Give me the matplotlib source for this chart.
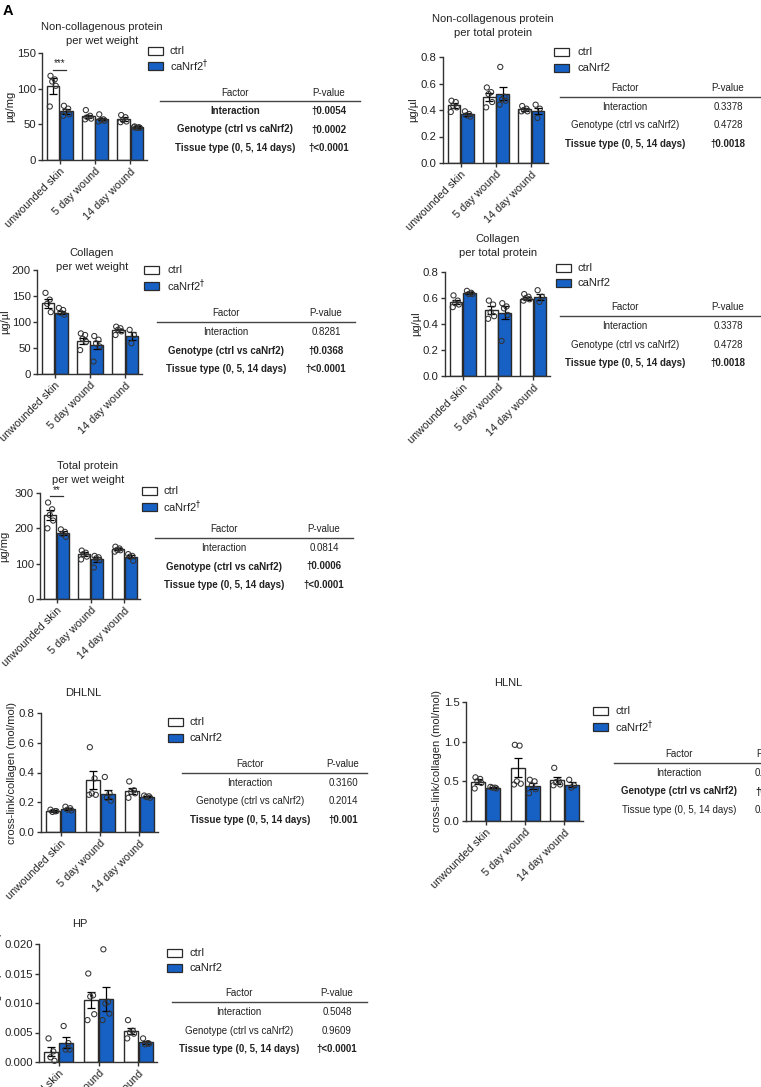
import numpy as np
import matplotlib
matplotlib.use("Agg")
import matplotlib.pyplot as plt
from matplotlib.patches import Rectangle
from matplotlib.lines import Line2D

plt.rcParams["font.family"] = ["Liberation Sans", "DejaVu Sans"]

W, H = 761, 1087
BLUE = "#1760c4"
EDGE = "#2a2a2a"
TXT = "#222222"

tissues = ["unwounded skin", "5 day wound", "14 day wound"]
factors = ["Interaction", "Genotype (ctrl vs caNrf2)", "Tissue type (0, 5, 14 days)"]

# non-collagenous protein per wet weight (ug/mg)
ncp_ww_mean_ctrl = [104, 61, 57]
ncp_ww_mean_ca = [68, 57, 46]
ncp_ww_sem_ctrl = [11, 2.5, 3]
ncp_ww_sem_ca = [3.5, 1.5, 1]
ncp_ww_pts_ctrl = [[118, 113, 110, 104, 75], [70, 62, 60, 58, 57], [63, 60, 56, 54, 53]]
ncp_ww_pts_ca = [[76, 72, 68, 64, 62], [64, 57, 56, 55, 54], [47, 46, 45, 45, 46]]
ncp_ww_pvals = ["\u20200.0054", "\u20200.0002", "\u2020<0.0001"]
ncp_ww_bold = [True, True, True]

# non-collagenous protein per total protein (ug/ul)
ncp_tp_mean_ctrl = [0.435, 0.498, 0.405]
ncp_tp_mean_ca = [0.367, 0.523, 0.392]
ncp_tp_sem_ctrl = [0.02, 0.03, 0.01]
ncp_tp_sem_ca = [0.01, 0.05, 0.025]
ncp_tp_pts_ctrl = [[0.47, 0.46, 0.43, 0.42, 0.385], [0.57, 0.535, 0.52, 0.46, 0.42], [0.43, 0.41, 0.40, 0.39, 0.39]]
ncp_tp_pts_ca = [[0.39, 0.37, 0.36, 0.35], [0.725, 0.50, 0.48, 0.47, 0.44], [0.44, 0.41, 0.34]]
ncp_tp_pvals = ["0.3378", "0.4728", "\u20200.0018"]
ncp_tp_bold = [False, False, True]

# collagen per wet weight (ug/ul)
col_ww_mean_ctrl = [136, 64, 84]
col_ww_mean_ca = [118, 56, 73]
col_ww_sem_ctrl = [9, 6, 3]
col_ww_sem_ca = [3, 8, 7]
col_ww_pts_ctrl = [[156, 143, 135, 119], [78, 75, 68, 62, 46], [91, 88, 85, 82, 75]]
col_ww_pts_ca = [[127, 123, 118, 114], [73, 66, 59, 53, 24], [85, 75, 59]]
col_ww_pvals = ["0.8281", "\u20200.0368", "\u2020<0.0001"]
col_ww_bold = [False, True, True]

# collagen per total protein (ug/ul)
col_tp_mean_ctrl = [0.570, 0.506, 0.596]
col_tp_mean_ca = [0.639, 0.486, 0.608]
col_tp_sem_ctrl = [0.015, 0.03, 0.01]
col_tp_sem_ca = [0.005, 0.05, 0.025]
col_tp_pts_ctrl = [[0.62, 0.58, 0.56, 0.55, 0.53], [0.58, 0.55, 0.49, 0.46, 0.44], [0.63, 0.61, 0.60, 0.59, 0.58]]
col_tp_pts_ca = [[0.655, 0.64, 0.63, 0.63], [0.56, 0.535, 0.52, 0.47, 0.27], [0.66, 0.61, 0.57]]
col_tp_pvals = ["0.3378", "0.4728", "\u20200.0018"]
col_tp_bold = [False, False, True]

# total protein per wet weight (ug/mg)
tp_ww_mean_ctrl = [238, 127, 141]
tp_ww_mean_ca = [186, 112, 120]
tp_ww_sem_ctrl = [14, 5, 3]
tp_ww_sem_ca = [6, 7, 4]
tp_ww_pts_ctrl = [[273, 254, 238, 222, 200], [137, 131, 127, 120, 112], [148, 143, 139, 138, 134]]
tp_ww_pts_ca = [[197, 190, 184, 176], [122, 118, 115, 110, 89], [127, 122, 120, 108]]
tp_ww_pvals = ["0.0814", "\u20200.0006", "\u2020<0.0001"]
tp_ww_bold = [False, True, True]

# DHLNL cross-link/collagen (mol/mol)
dhlnl_mean_ctrl = [0.142, 0.349, 0.275]
dhlnl_mean_ca = [0.155, 0.255, 0.237]
dhlnl_sem_ctrl = [0.006, 0.063, 0.02]
dhlnl_sem_ca = [0.007, 0.03, 0.004]
dhlnl_pts_ctrl = [[0.15, 0.14, 0.135, 0.14], [0.57, 0.36, 0.26, 0.25, 0.25], [0.34, 0.28, 0.27, 0.26, 0.23]]
dhlnl_pts_ca = [[0.17, 0.16, 0.15, 0.145], [0.37, 0.26, 0.23, 0.21], [0.245, 0.24, 0.235, 0.23]]
dhlnl_pvals = ["0.3160", "0.2014", "\u20200.001"]
dhlnl_bold = [False, False, True]

# HLNL
hlnl_mean_ctrl = [0.494, 0.672, 0.511]
hlnl_mean_ca = [0.422, 0.444, 0.46]
hlnl_sem_ctrl = [0.03, 0.12, 0.045]
hlnl_sem_ca = [0.005, 0.035, 0.03]
hlnl_pts_ctrl = [[0.55, 0.53, 0.50, 0.48, 0.41], [0.96, 0.95, 0.50, 0.47, 0.46], [0.67, 0.50, 0.49, 0.46, 0.45]]
hlnl_pts_ca = [[0.43, 0.42, 0.42, 0.41], [0.52, 0.50, 0.45, 0.40, 0.35], [0.52, 0.45, 0.42]]
hlnl_pvals = ["0.", "\u20200.", "0."]  # cut off at the figure edge
hlnl_bold = [False, True, False]

# HP
hp_mean_ctrl = [0.00175, 0.0105, 0.00525]
hp_mean_ca = [0.00328, 0.0107, 0.00333]
hp_sem_ctrl = [0.0008, 0.0013, 0.0005]
hp_sem_ca = [0.0009, 0.002, 0.0003]
hp_pts_ctrl = [[0.004, 0.0018, 0.0008, 0.0002], [0.015, 0.0113, 0.0111, 0.0081, 0.0071], [0.0071, 0.0053, 0.005, 0.0048, 0.004]]
hp_pts_ca = [[0.0061, 0.0032, 0.0021, 0.0021], [0.0191, 0.0102, 0.0099, 0.0082, 0.0071], [0.004, 0.0032, 0.003, 0.0031]]
hp_pvals = ["0.5048", "0.9609", "\u2020<0.0001"]
hp_bold = [False, False, True]

JITTER = [-0.07, 0.05, -0.02, 0.08, -0.09]


def fx(x):
    return x / W


def fy(y):
    return 1 - y / H


def draw_bars(ax, m_c, m_k, s_c, s_k, p_c, p_k, ymax, yticks, ylabels):
    x = np.arange(len(tissues))
    off = 0.19
    ax.bar(x - off, m_c, 0.355, color="white", edgecolor=EDGE, linewidth=1, zorder=2)
    ax.bar(x + off, m_k, 0.355, color=BLUE, edgecolor=EDGE, linewidth=1, zorder=2)
    ax.errorbar(x - off, m_c, yerr=s_c, fmt="none", ecolor="black", elinewidth=0.9,
                capsize=3, capthick=0.9, zorder=4)
    ax.errorbar(x + off, m_k, yerr=s_k, fmt="none", ecolor="black", elinewidth=0.9,
                capsize=3, capthick=0.9, zorder=4)
    for i in range(len(tissues)):
        for pts, xc in ((p_c[i], x[i] - off), (p_k[i], x[i] + off)):
            xs = [xc + JITTER[j % len(JITTER)] for j in range(len(pts))]
            ax.scatter(xs, pts, s=14, facecolors="none", edgecolors="#333333",
                       linewidths=0.75, zorder=5, clip_on=False)
    ax.set_xlim(-0.5, 2.47)
    ax.set_ylim(0, ymax)
    ax.set_yticks(yticks)
    ax.set_yticklabels(ylabels)
    ax.set_xticks(x)
    ax.set_xticklabels(tissues, rotation=45, ha="right", rotation_mode="anchor", fontsize=7.8)
    for s in ("top", "right"):
        ax.spines[s].set_visible(False)
    for s in ("left", "bottom"):
        ax.spines[s].set_linewidth(1)
        ax.spines[s].set_color("#333333")
    ax.tick_params(axis="both", length=3, width=1, color="#333333", labelcolor=TXT, pad=1.5)
    ax.tick_params(axis="y", labelsize=8.2)


def draw_table(fig, x0, x1, y_head, y_line, fcx, pcx, pvals, bold, pv_ha="center"):
    fig.text(fx(fcx), fy(y_head), "Factor", ha="center", va="center", fontsize=7, color=TXT)
    fig.text(fx(pcx), fy(y_head), "P-value", ha="center", va="center", fontsize=7, color=TXT)
    fig.add_artist(Line2D([fx(x0), fx(x1)], [fy(y_line), fy(y_line)], color="#444444", lw=1))
    px = pcx if pv_ha == "center" else pcx - 18
    for k in range(3):
        yy = y_line + 10 + k * 18.5
        w = "bold" if bold[k] else "normal"
        fig.text(fx(fcx), fy(yy), factors[k], ha="center", va="center", fontsize=7,
                 fontweight=w, color=TXT)
        fig.text(fx(px), fy(yy), pvals[k], ha=pv_ha, va="center", fontsize=7,
                 fontweight=w, color=TXT)


def draw_legend(fig, bx, by1, by2, tx, dagger):
    for yy, col, lab in ((by1, "white", "ctrl"),
                         (by2, BLUE, r"caNrf2$^{\dagger}$" if dagger else "caNrf2")):
        fig.add_artist(Rectangle((fx(bx), fy(yy + 3.8)), 14.5 / W, 7.6 / H,
                                 facecolor=col, edgecolor=EDGE, lw=0.9))
        fig.text(fx(tx), fy(yy), lab, ha="left", va="center", fontsize=8, color=TXT)


fig = plt.figure(figsize=(W / 100, H / 100), dpi=100)

panels = [
    dict(d=(ncp_ww_mean_ctrl, ncp_ww_mean_ca, ncp_ww_sem_ctrl, ncp_ww_sem_ca, ncp_ww_pts_ctrl, ncp_ww_pts_ca),
         box=(42, 53, 147, 160), ymax=150, yt=[0, 50, 100, 150], yl=["0", "50", "100", "150"],
         ylab="\u00b5g/mg", ylx=10, title=["Non-collagenous protein", "per wet weight"], tcx=102, ty=27,
         leg=(148, 51, 66, 170, True), tab=(160, 360, 93, 101, 235, 329), pv=ncp_ww_pvals, bd=ncp_ww_bold),
    dict(d=(ncp_tp_mean_ctrl, ncp_tp_mean_ca, ncp_tp_sem_ctrl, ncp_tp_sem_ca, ncp_tp_pts_ctrl, ncp_tp_pts_ca),
         box=(443, 57, 548, 163), ymax=0.8, yt=[0, 0.2, 0.4, 0.6, 0.8], yl=["0.0", "0.2", "0.4", "0.6", "0.8"],
         ylab="\u00b5g/\u00b5l", ylx=413, title=["Non-collagenous protein", "per total protein"], tcx=493, ty=19,
         leg=(554, 52, 68, 577, False), tab=(560, 760, 88, 97, 625, 728), pv=ncp_tp_pvals, bd=ncp_tp_bold),
    dict(d=(col_ww_mean_ctrl, col_ww_mean_ca, col_ww_sem_ctrl, col_ww_sem_ca, col_ww_pts_ctrl, col_ww_pts_ca),
         box=(37, 270, 142, 374), ymax=200, yt=[0, 50, 100, 150, 200], yl=["0", "50", "100", "150", "200"],
         ylab="\u00b5g/\u00b5l", ylx=5, title=["Collagen", "per wet weight"], tcx=92, ty=253,
         leg=(144, 270, 286, 167, True), tab=(157, 355, 313, 322, 226, 326), pv=col_ww_pvals, bd=col_ww_bold),
    dict(d=(col_tp_mean_ctrl, col_tp_mean_ca, col_tp_sem_ctrl, col_tp_sem_ca, col_tp_pts_ctrl, col_tp_pts_ca),
         box=(445, 272, 550, 376), ymax=0.8, yt=[0, 0.2, 0.4, 0.6, 0.8], yl=["0.0", "0.2", "0.4", "0.6", "0.8"],
         ylab="\u00b5g/\u00b5l", ylx=416, title=["Collagen", "per total protein"], tcx=498, ty=239,
         leg=(556, 268, 283, 578, False), tab=(560, 760, 307, 316, 625, 728), pv=col_tp_pvals, bd=col_tp_bold),
    dict(d=(tp_ww_mean_ctrl, tp_ww_mean_ca, tp_ww_sem_ctrl, tp_ww_sem_ca, tp_ww_pts_ctrl, tp_ww_pts_ca),
         box=(40, 493, 140, 599), ymax=300, yt=[0, 100, 200, 300], yl=["0", "100", "200", "300"],
         ylab="\u00b5g/mg", ylx=4, title=["Total protein", "per wet weight"], tcx=88, ty=466,
         leg=(142, 491, 507, 163, True), tab=(155, 353, 529, 538, 224, 324), pv=tp_ww_pvals, bd=tp_ww_bold),
    dict(d=(dhlnl_mean_ctrl, dhlnl_mean_ca, dhlnl_sem_ctrl, dhlnl_sem_ca, dhlnl_pts_ctrl, dhlnl_pts_ca),
         box=(41, 713, 158, 832), ymax=0.8, yt=[0, 0.2, 0.4, 0.6, 0.8], yl=["0.0", "0.2", "0.4", "0.6", "0.8"],
         ylab="cross-link/collagen (mol/mol)", ylx=12, title=["DHLNL"], tcx=83, ty=693,
         leg=(168, 722, 738, 190, False), tab=(182, 367, 764, 773, 250, 343), pv=dhlnl_pvals, bd=dhlnl_bold),
    dict(d=(hlnl_mean_ctrl, hlnl_mean_ca, hlnl_sem_ctrl, hlnl_sem_ca, hlnl_pts_ctrl, hlnl_pts_ca),
         box=(466, 702, 583, 821), ymax=1.5, yt=[0, 0.5, 1.0, 1.5], yl=["0.0", "0.5", "1.0", "1.5"],
         ylab="cross-link/collagen (mol/mol)", ylx=437, title=["HLNL"], tcx=508, ty=683,
         leg=(593, 711, 727, 615, True), tab=(614, 761, 754, 763, 679, 773), pv=hlnl_pvals, bd=hlnl_bold,
         pv_ha="left"),
    dict(d=(hp_mean_ctrl, hp_mean_ca, hp_sem_ctrl, hp_sem_ca, hp_pts_ctrl, hp_pts_ca),
         box=(39, 944, 157, 1062), ymax=0.020, yt=[0, 0.005, 0.01, 0.015, 0.02],
         yl=["0.000", "0.005", "0.010", "0.015", "0.020"],
         ylab="cross-link/collagen (mol/mol)", ylx=-3, title=["HP"], tcx=80, ty=924,
         leg=(167, 953, 968, 189, False), tab=(172, 367, 993, 1002, 239, 337), pv=hp_pvals, bd=hp_bold),
]

axes = []
for p in panels:
    x0, yt0, x1, yb = p["box"]
    ax = fig.add_axes([fx(x0), fy(yb), (x1 - x0) / W, (yb - yt0) / H])
    draw_bars(ax, *p["d"], p["ymax"], p["yt"], p["yl"])
    axes.append(ax)
    fig.text(fx(p["ylx"]), fy((yt0 + yb) / 2), p["ylab"], rotation=90, ha="center", va="center",
             fontsize=8, color=TXT)
    for k, line in enumerate(p["title"]):
        fig.text(fx(p["tcx"]), fy(p["ty"] + k * 14), line, ha="center", va="center", fontsize=8, color=TXT)
    draw_legend(fig, *p["leg"])
    draw_table(fig, *p["tab"], p["pv"], p["bd"], p.get("pv_ha", "center"))

# significance marks
ax = axes[0]
ax.plot([-0.19, 0.19], [126, 126], color="#333333", lw=0.9, clip_on=False)
ax.text(0, 129, "***", ha="center", va="bottom", fontsize=7, color=TXT, clip_on=False)
ax = axes[4]
ax.plot([-0.19, 0.19], [292, 292], color="#333333", lw=0.9, clip_on=False)
ax.text(0, 295, "**", ha="center", va="bottom", fontsize=7, color=TXT, clip_on=False)

fig.text(fx(3), fy(11), "A", ha="left", va="center", fontsize=10.5, fontweight="bold", color="black")

fig.savefig("out.png", dpi=100)
